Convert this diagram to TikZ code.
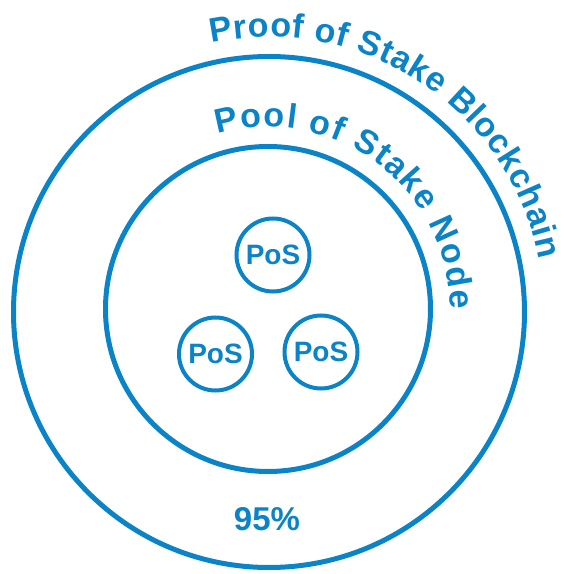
\documentclass[tikz,border=0pt]{standalone}
\usepackage{fontspec}
\setmainfont{Liberation Sans}
\usetikzlibrary{decorations.text}
\definecolor{posblue}{HTML}{0A84C6}
\tikzset{ring/.style = {draw=posblue, line width=5pt, circle, inner sep=0pt},
         posnode/.style = {draw=posblue, line width=4pt, circle, inner sep=0pt, minimum size=73pt,
                           text=posblue, font=\bfseries\fontsize{28}{28}\selectfont},
         ringlabel/.style = {decorate, font=\ringfont,
                             decoration={text along path, text align={fit to path}, text color=posblue}}}
\newcommand{\ringfont}{\bfseries\fontsize{34}{34}\selectfont}

\begin{document}
\begin{tikzpicture}[x=1pt,y=1pt]
\useasboundingbox (0,0) rectangle (564,574);

\node[ring, minimum size=511pt] (chain) at (269,262) {};
\node[ring, minimum size=325pt] (pool) at (268,265) {};

\node[posnode] (pos1) at (273,319) {PoS};
\node[posnode] (pos2) at (215.5,220) {PoS};
\node[posnode] (pos3) at (321,222) {PoS};

\node[text=posblue, font=\bfseries\fontsize{33}{33}\selectfont] (share) at (267,54.5) {95\%};

% labels round the rings
\path[ringlabel, decoration={text={|\ringfont|Proof of Stake Blockchain}}] (chain.center) ++(102:275) arc (102:11:275);
\path[ringlabel, decoration={text={|\ringfont|Pool of Stake Node}}] (pool.center) ++(106:182) arc (106:0:182);

\end{tikzpicture}
\end{document}
